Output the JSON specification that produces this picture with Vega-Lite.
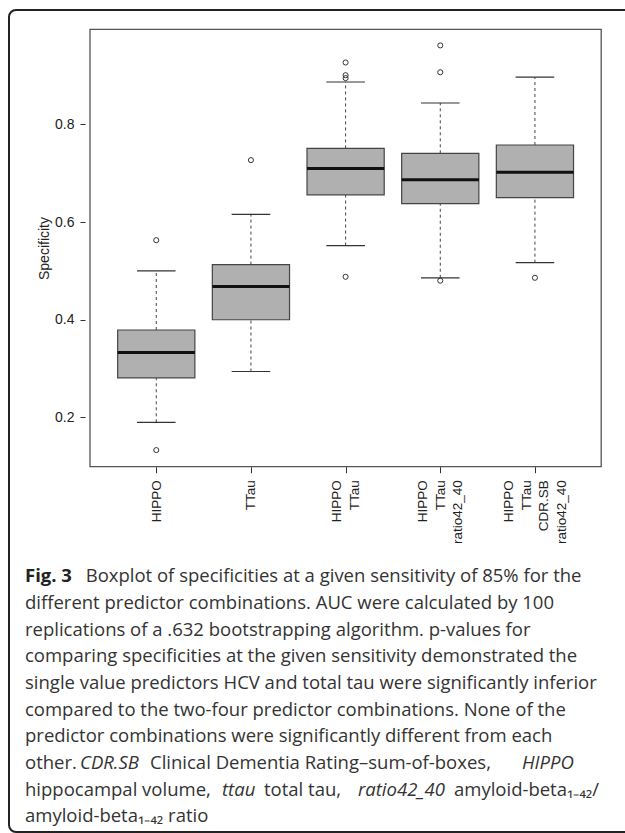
{
  "$schema": "https://vega.github.io/schema/vega-lite/v6.json",
  "width": 641,
  "height": 822,
  "autosize": {"type": "none"},
  "padding": {"left": 9, "top": 10, "right": -25, "bottom": 1},
  "background": "white",
  "config": {
    "view": {"stroke": "#222", "strokeWidth": 2, "cornerRadius": 7},
    "axis": {"grid": false, "labelFont": "Liberation Sans", "titleFont": "Liberation Sans", "labelColor": "#222", "titleColor": "#222", "tickColor": "#333", "domain": false},
    "text": {"font": "Open Sans", "fontSize": 18.5, "fill": "#333", "align": "left", "baseline": "alphabetic"}
  },
  "datasets": {
    "boxes": [
      {"pos": 1, "name": "HIPPO", "lo": 0.190, "q1": 0.281, "med": 0.333, "q3": 0.379, "hi": 0.500},
      {"pos": 2, "name": "TTau", "lo": 0.294, "q1": 0.400, "med": 0.468, "q3": 0.513, "hi": 0.616},
      {"pos": 3, "name": "HIPPO TTau", "lo": 0.552, "q1": 0.656, "med": 0.710, "q3": 0.751, "hi": 0.887},
      {"pos": 4, "name": "HIPPO TTau ratio42_40", "lo": 0.486, "q1": 0.638, "med": 0.687, "q3": 0.741, "hi": 0.844},
      {"pos": 5, "name": "HIPPO TTau CDR.SB ratio42_40", "lo": 0.517, "q1": 0.650, "med": 0.702, "q3": 0.758, "hi": 0.897}
    ],
    "outliers": [
      {"pos": 1, "value": 0.563},
      {"pos": 1, "value": 0.133},
      {"pos": 2, "value": 0.727},
      {"pos": 3, "value": 0.927},
      {"pos": 3, "value": 0.901},
      {"pos": 3, "value": 0.895},
      {"pos": 3, "value": 0.488},
      {"pos": 4, "value": 0.962},
      {"pos": 4, "value": 0.907},
      {"pos": 4, "value": 0.480},
      {"pos": 5, "value": 0.486}
    ],
    "frame": [{"x0": 0.3, "x1": 5.7, "y0": 0.099, "y1": 0.995}],
    "caption": [
      {"line": 1, "seg": "1a", "text": "Fig. 3"},
      {"line": 1, "seg": "1b", "text": "Boxplot of specificities at a given sensitivity of 85% for the"},
      {"line": 2, "seg": "p", "text": "different predictor combinations. AUC were calculated by 100"},
      {"line": 3, "seg": "p", "text": "replications of a .632 bootstrapping algorithm. p-values for"},
      {"line": 4, "seg": "p", "text": "comparing specificities at the given sensitivity demonstrated the"},
      {"line": 5, "seg": "p", "text": "single value predictors HCV and total tau were significantly inferior"},
      {"line": 6, "seg": "p", "text": "compared to the two-four predictor combinations. None of the"},
      {"line": 7, "seg": "p", "text": "predictor combinations were significantly different from each"},
      {"line": 8, "seg": "p", "text": "other."},
      {"line": 8, "seg": "8b", "text": "CDR.SB"},
      {"line": 8, "seg": "8c", "text": "Clinical Dementia Rating–sum-of-boxes,"},
      {"line": 8, "seg": "8d", "text": "HIPPO"},
      {"line": 9, "seg": "p", "text": "hippocampal volume,"},
      {"line": 9, "seg": "9b", "text": "ttau"},
      {"line": 9, "seg": "9c", "text": "total tau,"},
      {"line": 9, "seg": "9d", "text": "ratio42_40"},
      {"line": 9, "seg": "9e", "text": "amyloid-beta₁₋₄₂/"},
      {"line": 10, "seg": "p", "text": "amyloid-beta₁₋₄₂ ratio"}
    ]
  },
  "layer": [
    {
      "encoding": {
        "x": {"field": "pos", "type": "quantitative",
          "scale": {"domain": [0.3, 5.7], "range": [76, 597.2], "nice": false, "zero": false},
          "axis": {
            "orient": "bottom", "offset": -365.3, "values": [1, 2, 3, 4, 5], "title": null,
            "labelExpr": "datum.value == 1 ? 'HIPPO' : datum.value == 2 ? 'TTau' : datum.value == 3 ? ['HIPPO', 'TTau'] : datum.value == 4 ? ['HIPPO', 'TTau', 'ratio42_40'] : ['HIPPO', 'TTau', 'CDR.SB', 'ratio42_40']",
            "labelOffset": {"expr": "datum.value == 3 ? -8.75 : datum.value == 4 ? -17.5 : datum.value == 5 ? -26.25 : 0"},
            "labelAngle": 270, "labelAlign": "right", "labelBaseline": "middle",
            "labelFontSize": 13.5, "labelLineHeight": 17.5, "tickSize": 6, "labelPadding": 7,
            "labelFlush": false, "labelOverlap": false, "labelBound": false
          }
        }
      },
      "layer": [
        {
          "data": {"name": "boxes"},
          "mark": {"type": "rule", "strokeDash": [3, 3], "color": "#444", "strokeWidth": 1},
          "encoding": {
            "y": {"field": "q3", "type": "quantitative",
              "scale": {"domain": [0.099, 0.995], "range": [456.7, 19.3], "nice": false, "zero": false},
              "axis": {
                "orient": "left", "offset": -76, "values": [0.2, 0.4, 0.6, 0.8], "format": ".1f",
                "labelFontSize": 14, "labelPadding": 6, "tickSize": 5, "labelAngle": 0,
                "title": "Specificity", "titleFontSize": 14, "titleFontWeight": "normal", "titlePadding": 3
              }
            },
            "y2": {"field": "hi"}
          }
        },
        {
          "data": {"name": "boxes"},
          "mark": {"type": "rule", "strokeDash": [3, 3], "color": "#444", "strokeWidth": 1},
          "encoding": {
            "y": {"field": "lo", "type": "quantitative"},
            "y2": {"field": "q1"}
          }
        },
        {
          "data": {"name": "boxes"},
          "mark": {"type": "tick", "orient": "horizontal", "size": 38.6, "thickness": 1.2, "color": "#333", "opacity": 1},
          "encoding": {"y": {"field": "hi", "type": "quantitative"}}
        },
        {
          "data": {"name": "boxes"},
          "mark": {"type": "tick", "orient": "horizontal", "size": 38.6, "thickness": 1.2, "color": "#333", "opacity": 1},
          "encoding": {"y": {"field": "lo", "type": "quantitative"}}
        },
        {
          "data": {"name": "boxes"},
          "mark": {"type": "bar", "width": 77.2, "fill": "#b0b0b0", "stroke": "#444", "strokeWidth": 1.2},
          "encoding": {
            "y": {"field": "q1", "type": "quantitative"},
            "y2": {"field": "q3"}
          }
        },
        {
          "data": {"name": "boxes"},
          "mark": {"type": "tick", "orient": "horizontal", "size": 77.2, "thickness": 3, "color": "#111", "opacity": 1},
          "encoding": {"y": {"field": "med", "type": "quantitative"}}
        },
        {
          "data": {"name": "outliers"},
          "mark": {"type": "point", "shape": "circle", "filled": false, "size": 26, "stroke": "#333", "strokeWidth": 1, "opacity": 1},
          "encoding": {"y": {"field": "value", "type": "quantitative"}}
        },
        {
          "data": {"name": "frame"},
          "mark": {"type": "rect", "fill": null, "fillOpacity": 0, "stroke": "#555", "strokeWidth": 1.3},
          "encoding": {
            "x": {"field": "x0", "type": "quantitative"},
            "x2": {"field": "x1"},
            "y": {"field": "y0", "type": "quantitative"},
            "y2": {"field": "y1"}
          }
        }
      ]
    },
    {
      "data": {"name": "caption"},
      "encoding": {
        "y": {"field": "line", "type": "quantitative", "scale": {"domain": [1, 10], "range": [572.3, 812.3], "nice": false, "zero": false}, "axis": null},
        "text": {"field": "text"}
      },
      "layer": [
        {"transform": [{"filter": "datum.seg == 'p'"}], "mark": {"type": "text", "x": 16}},
        {"transform": [{"filter": "datum.seg == '1a'"}], "mark": {"type": "text", "x": 16, "fontWeight": "bold", "fill": "#222"}},
        {"transform": [{"filter": "datum.seg == '1b'"}], "mark": {"type": "text", "x": 76.7}},
        {"transform": [{"filter": "datum.seg == '8b'"}], "mark": {"type": "text", "x": 71, "fontStyle": "italic"}},
        {"transform": [{"filter": "datum.seg == '8c'"}], "mark": {"type": "text", "x": 141}},
        {"transform": [{"filter": "datum.seg == '8d'"}], "mark": {"type": "text", "x": 513, "fontStyle": "italic"}},
        {"transform": [{"filter": "datum.seg == '9b'"}], "mark": {"type": "text", "x": 213, "fontStyle": "italic"}},
        {"transform": [{"filter": "datum.seg == '9c'"}], "mark": {"type": "text", "x": 255}},
        {"transform": [{"filter": "datum.seg == '9d'"}], "mark": {"type": "text", "x": 349, "fontStyle": "italic"}},
        {"transform": [{"filter": "datum.seg == '9e'"}], "mark": {"type": "text", "x": 445}}
      ]
    }
  ],
  "resolve": {"scale": {"x": "independent", "y": "independent"}, "axis": {"x": "independent", "y": "independent"}}
}
